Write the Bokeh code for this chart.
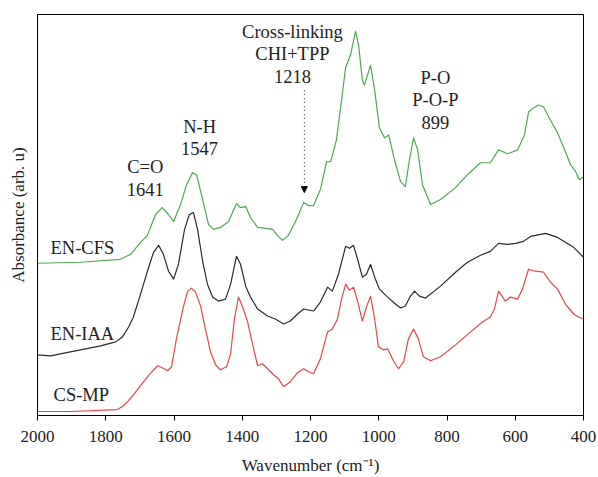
from bokeh.plotting import figure
from bokeh.models import Range1d, FixedTicker, Arrow, NormalHead, Label
from bokeh.embed import file_html
from bokeh.resources import INLINE

# ---- data ----
wn_cfs = [2000, 1874, 1757, 1727, 1698, 1678, 1654, 1634, 1616, 1601, 1581, 1563, 1546, 1534, 1516,
          1499, 1484, 1464, 1440, 1417, 1405, 1390, 1376, 1355, 1332, 1311, 1297, 1282, 1265, 1244,
          1220, 1206, 1191, 1171, 1153, 1141, 1124, 1109, 1097, 1083, 1068, 1059, 1048, 1042, 1033,
          1024, 1012, 998, 983, 971, 954, 936, 922, 910, 898, 886, 872, 848, 819, 775, 740, 702,
          673, 649, 623, 593, 573, 561, 547, 532, 517, 497, 476, 453, 438, 423, 412, 400]
ab_cfs = [1.53, 1.54, 1.57, 1.62, 1.74, 1.81, 2.02, 2.09, 2.02, 1.95, 2.12, 2.32, 2.44, 2.42, 2.17,
          1.92, 1.87, 1.89, 1.95, 2.13, 2.09, 2.10, 1.99, 1.89, 1.88, 1.87, 1.81, 1.76, 1.81, 1.95,
          2.14, 2.11, 2.11, 2.27, 2.55, 2.55, 2.77, 3.17, 3.50, 3.62, 3.86, 3.72, 3.37, 3.32, 3.42,
          3.52, 3.27, 2.89, 2.79, 2.82, 2.57, 2.35, 2.30, 2.57, 2.79, 2.67, 2.32, 2.12, 2.17, 2.29,
          2.42, 2.54, 2.54, 2.67, 2.63, 2.67, 2.82, 3.05, 3.09, 3.12, 3.10, 2.97, 2.84, 2.65, 2.52,
          2.45, 2.37, 2.40]

wn_iaa = [2000, 1962, 1889, 1815, 1771, 1751, 1733, 1719, 1698, 1678, 1660, 1645, 1631, 1616, 1601,
          1587, 1569, 1555, 1543, 1531, 1516, 1502, 1487, 1470, 1449, 1434, 1417, 1405, 1390, 1376,
          1355, 1326, 1303, 1279, 1259, 1238, 1220, 1191, 1171, 1150, 1136, 1118, 1097, 1086, 1074,
          1062, 1048, 1036, 1024, 1012, 998, 974, 951, 936, 922, 907, 895, 881, 863, 819, 775, 740,
          702, 673, 649, 623, 599, 576, 555, 511, 476, 453, 429, 400]
ab_iaa = [0.61, 0.60, 0.65, 0.70, 0.74, 0.79, 0.89, 0.99, 1.22, 1.45, 1.64, 1.71, 1.62, 1.45, 1.37,
          1.52, 1.87, 2.02, 2.04, 1.87, 1.55, 1.32, 1.19, 1.15, 1.17, 1.32, 1.60, 1.52, 1.30, 1.19,
          1.07, 1.00, 0.97, 0.92, 0.95, 1.02, 1.07, 1.05, 1.14, 1.29, 1.25, 1.42, 1.70, 1.68, 1.71,
          1.57, 1.39, 1.42, 1.52, 1.39, 1.27, 1.19, 1.12, 1.08, 1.10, 1.20, 1.25, 1.20, 1.18, 1.30,
          1.44, 1.54, 1.61, 1.65, 1.73, 1.72, 1.73, 1.75, 1.80, 1.83, 1.79, 1.74, 1.69, 1.59]

wn_mp = [2000, 1903, 1766, 1751, 1736, 1716, 1698, 1675, 1648, 1634, 1619, 1607, 1593, 1572, 1560,
         1549, 1537, 1522, 1508, 1493, 1478, 1464, 1446, 1434, 1423, 1411, 1399, 1385, 1370, 1355,
         1341, 1326, 1308, 1294, 1279, 1259, 1238, 1220, 1206, 1191, 1171, 1150, 1136, 1121, 1109,
         1097, 1086, 1074, 1062, 1048, 1036, 1024, 1012, 1001, 986, 974, 957, 942, 927, 913, 898,
         884, 869, 848, 819, 775, 731, 696, 673, 661, 649, 637, 629, 614, 593, 579, 561, 541, 517,
         497, 476, 453, 429, 415, 400]
ab_mp = [0.04, 0.04, 0.06, 0.09, 0.14, 0.22, 0.30, 0.40, 0.50, 0.48, 0.45, 0.49, 0.77, 1.10, 1.25,
         1.28, 1.24, 1.10, 0.87, 0.64, 0.51, 0.46, 0.49, 0.62, 0.97, 1.19, 1.09, 0.95, 0.72, 0.50,
         0.52, 0.47, 0.41, 0.37, 0.29, 0.34, 0.43, 0.47, 0.44, 0.42, 0.57, 0.84, 0.87, 0.97, 1.17,
         1.32, 1.26, 1.29, 1.15, 0.95, 1.09, 1.20, 0.97, 0.69, 0.66, 0.67, 0.55, 0.47, 0.54, 0.77,
         0.87, 0.77, 0.59, 0.55, 0.59, 0.71, 0.84, 0.94, 0.99, 1.07, 1.25, 1.19, 1.15, 1.19, 1.17,
         1.27, 1.47, 1.45, 1.44, 1.34, 1.27, 1.12, 1.02, 0.99, 0.97]

series_names = ["EN-CFS", "EN-IAA", "CS-MP"]
x_ticks = [2000, 1800, 1600, 1400, 1200, 1000, 800, 600, 400]
annot_co = ["C=O", "1641"]
annot_nh = ["N-H", "1547"]
annot_cl = ["Cross-linking", "CHI+TPP", "1218"]
annot_po = ["P-O", "P-O-P", "899"]
crosslink_wn = 1218

FONT = "Liberation Serif"
FS = "17px"
FS_T = "18.5px"

p = figure(width=598, height=477, output_backend="svg", toolbar_location=None,
           x_range=Range1d(2000, 400), y_range=Range1d(0, 4.03),
           min_border_left=37, min_border_right=15, min_border_top=14, min_border_bottom=60)
p.background_fill_color = "white"
p.border_fill_color = "white"
p.outline_line_color = "black"
p.outline_line_width = 1
p.xgrid.visible = False
p.ygrid.visible = False

p.line(wn_cfs, ab_cfs, line_color="#4ea853", line_width=1.2, line_join="round")
p.line(wn_iaa, ab_iaa, line_color="#2b2b2b", line_width=1.2, line_join="round")
p.line(wn_mp, ab_mp, line_color="#e2474b", line_width=1.2, line_join="round")

# axes
p.xaxis.ticker = FixedTicker(ticks=x_ticks)
p.xaxis.minor_tick_line_color = None
p.xaxis.major_tick_out = 5
p.xaxis.major_tick_in = 0
p.xaxis.major_label_standoff = 10
p.xaxis.axis_label = "Wavenumber (cm\u207b\u00b9)"
p.xaxis.axis_label_standoff = 11
p.yaxis.ticker = FixedTicker(ticks=[])
p.yaxis.minor_tick_line_color = None
p.yaxis.major_tick_line_color = None
p.yaxis.axis_label = "Absorbance (arb. u)"
p.yaxis.axis_label_standoff = 10
for ax in (p.xaxis[0], p.yaxis[0]):
    ax.axis_line_color = "black"
    ax.major_tick_line_color = "black" if ax is p.xaxis[0] else None
    ax.axis_label_text_font = FONT
    ax.axis_label_text_font_size = FS
    ax.axis_label_text_font_style = "normal"
    ax.axis_label_text_color = "#222222"
    ax.major_label_text_font = FONT
    ax.major_label_text_font_size = FS
    ax.major_label_text_color = "#222222"

def add_text(x, y, t, align="center"):
    p.add_layout(Label(x=x, y=y, text=t, text_font=FONT, text_font_size=FS_T,
                       text_color="#222222", text_align=align, text_baseline="middle"))

# annotations
add_text(1684, 2.50, annot_co[0]); add_text(1684, 2.27, annot_co[1])
add_text(1525, 2.90, annot_nh[0]); add_text(1525, 2.68, annot_nh[1])
add_text(1253, 3.85, annot_cl[0]); add_text(1253, 3.63, annot_cl[1]); add_text(1253, 3.41, annot_cl[2])
add_text(834, 3.39, annot_po[0]); add_text(834, 3.17, annot_po[1]); add_text(834, 2.94, annot_po[2])

add_text(1962, 1.68, series_names[0], "left")
add_text(1962, 0.82, series_names[1], "left")
add_text(1953, 0.21, series_names[2], "left")

p.add_layout(Arrow(x_start=crosslink_wn, y_start=3.27, x_end=crosslink_wn, y_end=2.24,
                   line_color="#333333", line_width=1, line_dash="1 3",
                   end=NormalHead(size=6, fill_color="black", line_color="black")))

open("out.html", "w").write(file_html(p, INLINE))
